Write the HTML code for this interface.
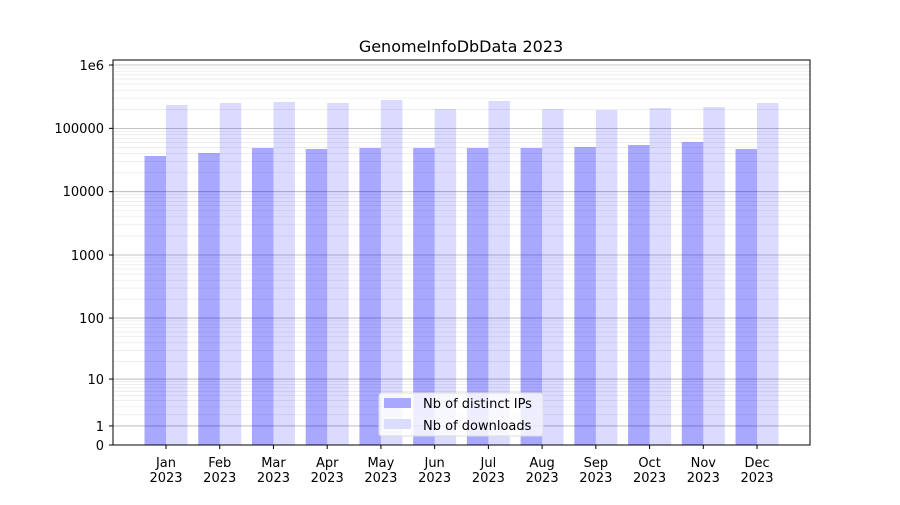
<!DOCTYPE html>
<html><head><meta charset="utf-8"><style>
body{margin:0;background:#fff}
svg text{font-family:"DejaVu Sans","Liberation Sans",sans-serif;fill:#000}
</style></head><body>
<svg id="s" width="900" height="500" xmlns="http://www.w3.org/2000/svg">
<rect width="900" height="500" fill="#fff"/>
<g id="grid"></g>
<g id="bars"></g>
<rect x="113" y="60" width="697" height="385" fill="none" stroke="#000" stroke-width="1"/>
<g id="ticks"></g>
<text x="461" y="52" font-size="16" text-anchor="middle">GenomeInfoDbData 2023</text>
<g font-size="13" text-anchor="end">
<text x="104" y="70">1e6</text>
<text x="104" y="133">100000</text>
<text x="104" y="196">10000</text>
<text x="104" y="260">1000</text>
<text x="104" y="323">100</text>
<text x="104" y="384">10</text>
<text x="104" y="431">1</text>
<text x="104" y="450">0</text>
</g>
<g id="xl" font-size="13" text-anchor="middle"></g>
<rect x="379" y="393" width="164" height="43" rx="3" fill="#fff" fill-opacity="0.8" stroke="#ddd"/>
<rect x="384" y="398" width="27" height="10" fill="#a8a8ff"/>
<rect x="384" y="419" width="27" height="10" fill="#dcdcff"/>
<text x="423" y="408" font-size="13">Nb of distinct IPs</text>
<text x="423" y="430" font-size="13">Nb of downloads</text>
</svg>
<script>
const NS="http://www.w3.org/2000/svg";
function el(p,t,a){const e=document.createElementNS(NS,t);for(const k in a)e.setAttribute(k,a[k]);p.appendChild(e);return e;}
const Y=v=>445-63.33*Math.log10(v+1);
const g=document.getElementById('grid'),b=document.getElementById('bars'),tk=document.getElementById('ticks'),xl=document.getElementById('xl');
for(let d=0;d<=6;d++){
  el(g,'line',{x1:113,x2:810,y1:Y(10**d),y2:Y(10**d),stroke:'#b0b0b0','stroke-width':0.8});
  el(tk,'line',{x1:109,x2:113,y1:Y(10**d),y2:Y(10**d),stroke:'#000'});
  if(d<6)for(let k=2;k<10;k++){const y=Y(k*10**d);el(g,'line',{x1:113,x2:810,y1:y,y2:y,stroke:'#e4e4e4','stroke-width':0.6});}
}
el(tk,'line',{x1:109,x2:113,y1:445,y2:445,stroke:'#000'});
const ip=[156,153,148,149,148,148,148,148,147,145,142,149];
const dl=[105,103,102,103,100,109,101,109,110,108,107,103];
const m=['Jan','Feb','Mar','Apr','May','Jun','Jul','Aug','Sep','Oct','Nov','Dec'];
for(let i=0;i<12;i++){
  const c=166+i*53.73;
  el(b,'rect',{x:c-21.5,y:ip[i],width:21.5,height:445-ip[i],fill:'#0000ff','fill-opacity':0.34});
  el(b,'rect',{x:c,y:dl[i],width:21.5,height:445-dl[i],fill:'#0000ff','fill-opacity':0.14});
  el(tk,'line',{x1:c,x2:c,y1:445,y2:449,stroke:'#000'});
  let t=el(xl,'text',{x:c,y:467});t.textContent=m[i];
  t=el(xl,'text',{x:c,y:482});t.textContent='2023';
}
</script>
</body></html>
